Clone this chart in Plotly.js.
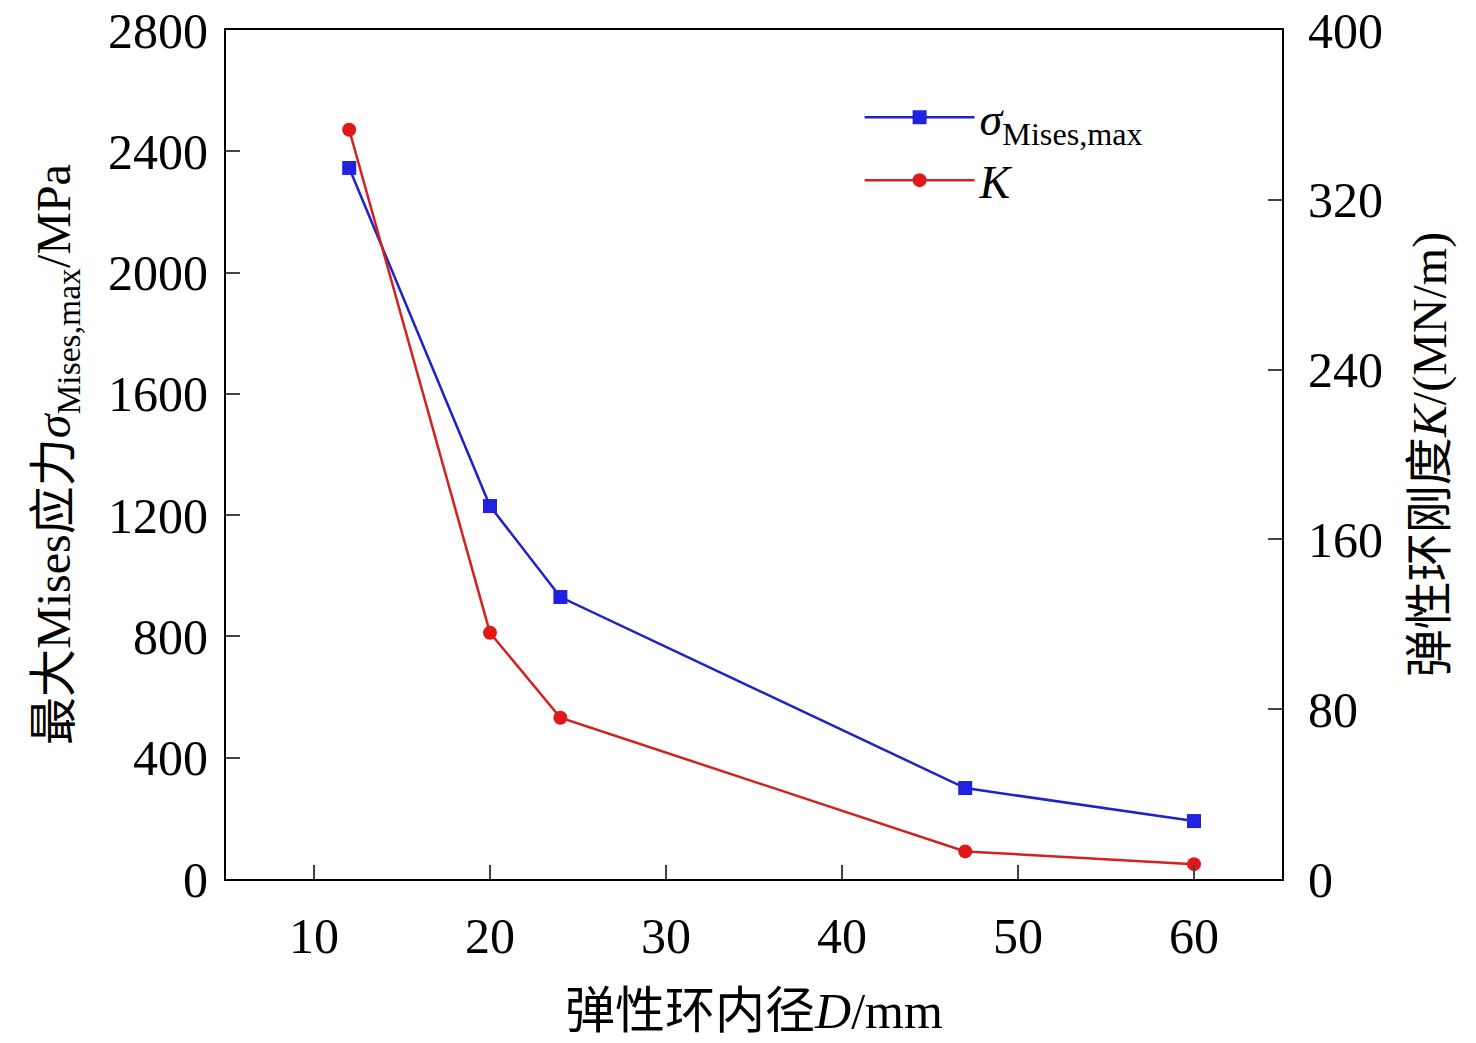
<!DOCTYPE html>
<html>
<head>
<meta charset="utf-8">
<script src="https://cdn.plot.ly/plotly-3.0.1.min.js"></script>
<style>body{margin:0}</style>
</head>
<body>
<div id="chart" style="width:1476px;height:1043px"></div>
<script>
// inner diameter D (mm)
const diameter = [12, 20, 24, 47, 60];
// max Mises stress (MPa), left axis
const sigmaMax = [2345, 1230, 930, 300, 191];
// ring stiffness K (MN/m), right axis
const stiffness = [353, 116, 76, 13, 7];

const FONT = 'Liberation Serif, "Times New Roman", "Noto Sans CJK SC", serif';

const traces = [
  {
    x: diameter, y: sigmaMax, type: 'scatter', mode: 'lines+markers',
    name: '<i>σ</i><sub>Mises,max</sub>',
    line: {color: '#1f22c8', width: 2.5},
    marker: {symbol: 'square', size: 14, color: '#1f22e0'}
  },
  {
    x: diameter, y: stiffness, type: 'scatter', mode: 'lines+markers',
    name: '<i>K</i>', yaxis: 'y2',
    line: {color: '#d42020', width: 2.5},
    marker: {symbol: 'circle', size: 14, color: '#e01818'}
  }
];

const layout = {
  width: 1476, height: 1043,
  margin: {l: 226, r: 194, t: 30, b: 164},
  font: {family: FONT, size: 50, color: '#000'},
  paper_bgcolor: '#fff', plot_bgcolor: '#fff',
  showlegend: true,
  legend: {x: 0.6, y: 0.94, xanchor: 'left', yanchor: 'top', bgcolor: 'rgba(0,0,0,0)',
           font: {size: 46}, itemwidth: 110, tracegroupgap: 10},
  xaxis: {
    range: [5, 65], tickvals: [10, 20, 30, 40, 50, 60],
    ticks: 'inside', ticklen: 14, tickwidth: 2, ticklabelstandoff: 12,
    showline: true, linewidth: 2, linecolor: '#000', mirror: true,
    showgrid: false, zeroline: false,
    title: {text: '弹性环内径<i>D</i>/mm', font: {size: 50}, standoff: 30}
  },
  yaxis: {
    range: [0, 2800], tickvals: [0, 400, 800, 1200, 1600, 2000, 2400, 2800],
    ticks: 'inside', ticklen: 14, tickwidth: 2, ticklabelstandoff: 6,
    showline: true, linewidth: 2, linecolor: '#000',
    showgrid: false, zeroline: false,
    title: {text: '最大Mises应力<i>σ</i><sub>Mises,max</sub>/MPa', font: {size: 48}, standoff: 22}
  },
  yaxis2: {
    range: [0, 400], tickvals: [0, 80, 160, 240, 320, 400],
    overlaying: 'y', side: 'right',
    ticks: 'inside', ticklen: 14, tickwidth: 2, ticklabelstandoff: 14,
    showline: true, linewidth: 2, linecolor: '#000',
    showgrid: false, zeroline: false,
    title: {text: '弹性环刚度<i>K</i>/(MN/m)', font: {size: 48}, standoff: 30}
  }
};

Plotly.newPlot('chart', traces, layout, {displayModeBar: false});
</script>
</body>
</html>
